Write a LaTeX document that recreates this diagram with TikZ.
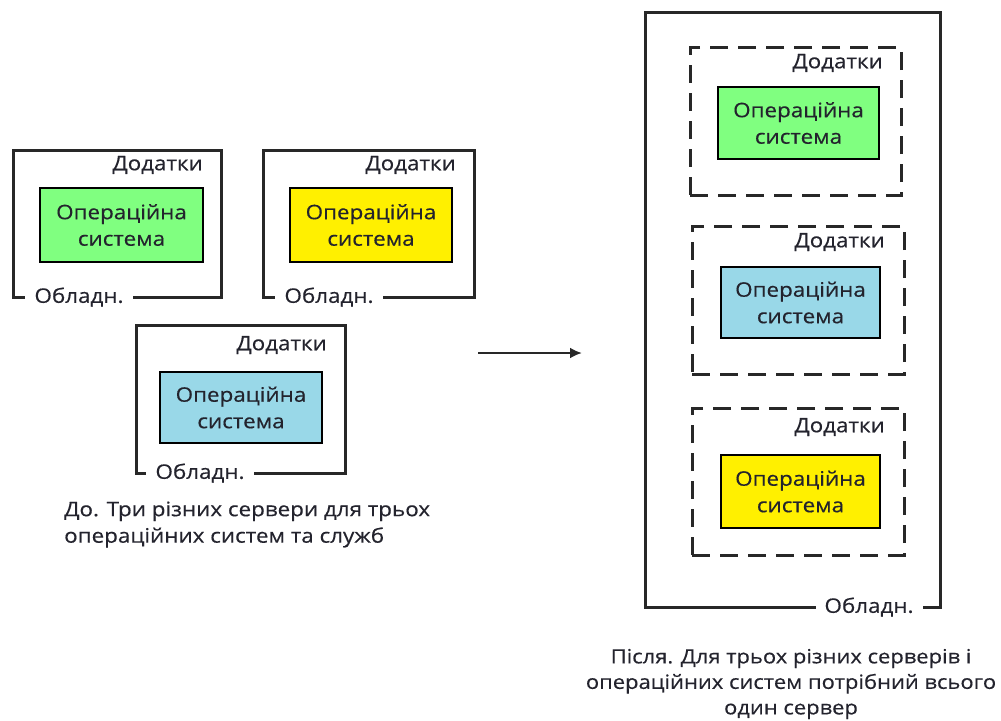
\documentclass[tikz,border=0pt]{standalone}
\usepackage{fontspec}
\setmainfont{Open Sans}[FakeStretch=1.12,FakeBold=0.4]
\usetikzlibrary{arrows.meta}
\definecolor{framecol}{RGB}{40,40,40}
\definecolor{txt}{RGB}{35,35,45}
\definecolor{osgreen}{RGB}{128,255,128}
\definecolor{osyellow}{RGB}{255,240,0}
\definecolor{osblue}{RGB}{153,216,232}
\newcommand{\fs}{\fontsize{20}{26.5}\selectfont}
\newcommand{\fsr}{\fontsize{19.6}{25.5}\selectfont}
\begin{document}
\begin{tikzpicture}[x=1pt,y=-1pt,
 frame/.style={draw=framecol, line width=3pt, inner sep=0pt},
 dframe/.style={draw=framecol, line width=3pt, inner sep=0pt, dash pattern=on 18pt off 10pt},
 osbox/.style={draw=black, line width=1.5pt, align=center, text=txt, font=\fs, inner sep=0pt},
 lbl/.style={text=txt, font=\fs, inner sep=0pt, anchor=east},
 hw/.style={text=txt, font=\fs, fill=white, inner xsep=9pt, inner ysep=4pt},
 captxt/.style={text=txt, font=\fs, inner sep=0pt}]
\useasboundingbox (0,0) rectangle (1001,720);
% server 1
\node[frame, minimum width=208pt, minimum height=147pt] (f1) at (117,223.5) {};
\node[osbox, fill=osgreen, minimum width=163pt, minimum height=74pt] (os1) at (121.5,225) {Операційна\\система};
\node[lbl] (ap1) at (203,165) {Додатки};
\node[hw] (hw1) at (79,297) {Обладн.};
% server 2
\node[frame, minimum width=211pt, minimum height=147pt] (f2) at (368.5,223.5) {};
\node[osbox, fill=osyellow, minimum width=162pt, minimum height=74pt] (os2) at (371,225) {Операційна\\система};
\node[lbl] (ap2) at (456,165) {Додатки};
\node[hw] (hw2) at (329,297) {Обладн.};
% server 3
\node[frame, minimum width=209pt, minimum height=148pt] (f3) at (240.5,399) {};
\node[osbox, fill=osblue, minimum width=162pt, minimum height=71pt] (os3) at (241,407.5) {Операційна\\система};
\node[lbl] (ap3) at (327,345) {Додатки};
\node[hw] (hw3) at (200,473) {Обладн.};
% left caption
\node[captxt, align=left, anchor=west] (capL) at (64,524.5) {До. Три різних сервери для трьох\\операційних систем та служб};
% arrow
\coordinate (a1) at (478,353);
\coordinate (a2) at (582,353);
\draw[line width=2.5pt, draw=framecol, -{Latex[length=12pt,width=11pt]}] (a1) -- (a2);
% big server
\node[frame, minimum width=295pt, minimum height=595pt] (big) at (792.5,309.5) {};
\node[dframe, minimum width=211pt, minimum height=148pt] (d1) at (795.5,121) {};
\node[lbl] (bp1) at (883,63) {Додатки};
\node[osbox, fill=osgreen, minimum width=161pt, minimum height=72pt] (bo1) at (798.5,123) {Операційна\\система};
\node[dframe, minimum width=212pt, minimum height=148pt] (d2) at (798,300) {};
\node[lbl] (bp2) at (885,242) {Додатки};
\node[osbox, fill=osblue, minimum width=159pt, minimum height=71pt] (bo2) at (800.5,302.5) {Операційна\\система};
\node[dframe, minimum width=212pt, minimum height=147pt] (d3) at (798,481.5) {};
\node[lbl] (bp3) at (885,427) {Додатки};
\node[osbox, fill=osyellow, minimum width=159pt, minimum height=73pt] (bo3) at (800.5,491.5) {Операційна\\система};
\node[hw] (hwb) at (869,607) {Обладн.};
% right caption
\node[captxt, font=\fsr, align=center] (capR) at (791,684) {Після. Для трьох різних серверів і\\операційних систем потрібний всього\\один сервер};
\end{tikzpicture}
\end{document}
